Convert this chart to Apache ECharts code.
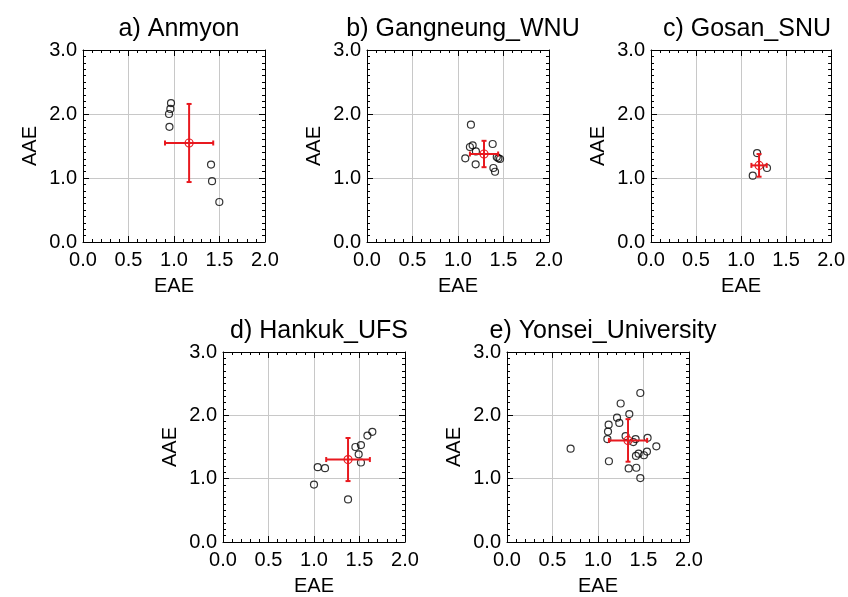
<!DOCTYPE html>
<html>
<head>
<meta charset="utf-8">
<script src="https://cdn.jsdelivr.net/npm/echarts@6/dist/echarts.min.js"></script>
<style>
html,body{margin:0;padding:0;background:#fff;}
#chart{width:848px;height:597px;}
</style>
</head>
<body>
<div id="chart"></div>
<script>
// ---- Data ----
const panelTitles = ['a) Anmyon', 'b) Gangneung_WNU', 'c) Gosan_SNU', 'd) Hankuk_UFS', 'e) Yonsei_University'];
const xTickLabels = ['0.0', '0.5', '1.0', '1.5', '2.0'];
const yTickLabels = ['0.0', '1.0', '2.0', '3.0'];

// [EAE, AAE]
const anmyonPoints = [[0.967, 2.17], [0.96, 2.08], [0.945, 2.0], [0.95, 1.80], [1.407, 1.21], [1.418, 0.95], [1.498, 0.625]];
const gangneungPoints = [[1.142, 1.833], [1.131, 1.484], [1.161, 1.51], [1.197, 1.416], [1.08, 1.307], [1.194, 1.213],
  [1.381, 1.531], [1.426, 1.328], [1.444, 1.307], [1.462, 1.297], [1.389, 1.156], [1.407, 1.098]];
const gosanPoints = [[1.178, 1.39], [1.288, 1.156], [1.13, 1.036]];
const hankukPoints = [[1.641, 1.739], [1.587, 1.681], [1.516, 1.531], [1.455, 1.5], [1.491, 1.385], [1.516, 1.255],
  [1.041, 1.181], [1.121, 1.166], [1.0, 0.906], [1.374, 0.672]];
const yonseiPoints = [[0.699, 1.473], [1.465, 2.353], [1.249, 2.187], [1.344, 2.02], [1.209, 1.963], [1.234, 1.88],
  [1.117, 1.853], [1.11, 1.744], [1.103, 1.625], [1.303, 1.672], [1.413, 1.625], [1.388, 1.578], [1.545, 1.645],
  [1.641, 1.51], [1.446, 1.395], [1.417, 1.359], [1.505, 1.37], [1.538, 1.427], [1.12, 1.275], [1.337, 1.161],
  [1.421, 1.172], [1.465, 1.01]];

// mean with std: [EAE mean, AAE mean, EAE sd, AAE sd]
const anmyonMean = [1.166, 1.547, 0.265, 0.61];
const gangneungMean = [1.286, 1.375, 0.155, 0.206];
const gosanMean = [1.2, 1.197, 0.085, 0.177];
const hankukMean = [1.374, 1.302, 0.24, 0.34];
const yonseiMean = [1.33, 1.604, 0.21, 0.336];

const allPoints = [anmyonPoints, gangneungPoints, gosanPoints, hankukPoints, yonseiPoints];
const allMeans = [anmyonMean, gangneungMean, gosanMean, hankukMean, yonseiMean];

// ---- Layout ----
const plotW = 182, plotH = 192;
const plotPos = [[83, 50], [367, 50], [651, 50], [223, 352], [507, 352]];
const RED = '#e8191f';
const FONT = 'Liberation Sans, Arial, Helvetica, sans-serif';

const grids = [], xAxes = [], yAxes = [], series = [], titles = [];

plotPos.forEach(function (p, i) {
  grids.push({ left: p[0], top: p[1], width: plotW, height: plotH, containLabel: false });
  titles.push({
    text: panelTitles[i], left: p[0] + plotW / 2, top: p[1] - 38, textAlign: 'center',
    textStyle: { fontFamily: FONT, fontSize: 25, fontWeight: 'normal', color: '#000' }
  });
  const common = {
    type: 'value', gridIndex: i,
    axisLine: { show: true, onZero: false, lineStyle: { color: '#000', width: 1 } },
    axisTick: { show: true, inside: true, length: 6, lineStyle: { color: '#000', width: 1 } },
    minorTick: { show: true, length: 3, lineStyle: { color: '#000', width: 1 } }
  };
  xAxes.push(Object.assign({}, common, {
    position: 'bottom', min: 0, max: 2, interval: 0.5,
    minorTick: Object.assign({}, common.minorTick, { splitNumber: 5 }),
    splitLine: { show: true, lineStyle: { color: '#c8c8c8', width: 1 } },
    axisLabel: {
      show: true, margin: 8, fontFamily: FONT, fontSize: 20, color: '#000',
      formatter: function (v) { return xTickLabels[Math.round(v / 0.5)]; }
    },
    name: 'EAE', nameLocation: 'middle', nameGap: 34,
    nameTextStyle: { fontFamily: FONT, fontSize: 20, color: '#000' }
  }));
  xAxes.push(Object.assign({}, common, {
    position: 'top', min: 0, max: 2, interval: 0.5,
    minorTick: Object.assign({}, common.minorTick, { splitNumber: 5 }),
    splitLine: { show: false }, axisLabel: { show: false }
  }));
  yAxes.push(Object.assign({}, common, {
    position: 'left', min: 0, max: 3, interval: 1,
    minorTick: Object.assign({}, common.minorTick, { splitNumber: 10 }),
    splitLine: { show: true, lineStyle: { color: '#c8c8c8', width: 1 } },
    axisLabel: {
      show: true, margin: 6, fontFamily: FONT, fontSize: 20, color: '#000',
      formatter: function (v) { return yTickLabels[Math.round(v)]; }
    },
    name: 'AAE', nameLocation: 'middle', nameGap: 43,
    nameTextStyle: { fontFamily: FONT, fontSize: 20, color: '#000' }
  }));
  yAxes.push(Object.assign({}, common, {
    position: 'right', min: 0, max: 3, interval: 1,
    minorTick: Object.assign({}, common.minorTick, { splitNumber: 10 }),
    splitLine: { show: false }, axisLabel: { show: false }
  }));

  series.push({
    type: 'scatter', xAxisIndex: 2 * i, yAxisIndex: 2 * i,
    data: allPoints[i], symbol: 'circle', symbolSize: 7,
    itemStyle: { color: 'rgba(0,0,0,0)', borderColor: '#000', borderWidth: 1.2 },
    z: 3, silent: true
  });
  series.push({
    type: 'custom', xAxisIndex: 2 * i, yAxisIndex: 2 * i,
    data: [allMeans[i]], encode: { x: 0, y: 1 }, z: 4, silent: true,
    renderItem: function (params, api) {
      const x = api.value(0), y = api.value(1), ex = api.value(2), ey = api.value(3);
      const c = api.coord([x, y]);
      const l = api.coord([x - ex, y]), r = api.coord([x + ex, y]);
      const t = api.coord([x, y + ey]), b = api.coord([x, y - ey]);
      const cap = 2.5;
      const st = { stroke: RED, lineWidth: 2 };
      return {
        type: 'group', children: [
          { type: 'line', shape: { x1: l[0], y1: l[1], x2: r[0], y2: r[1] }, style: st },
          { type: 'line', shape: { x1: t[0], y1: t[1], x2: b[0], y2: b[1] }, style: st },
          { type: 'line', shape: { x1: l[0], y1: l[1] - cap, x2: l[0], y2: l[1] + cap }, style: st },
          { type: 'line', shape: { x1: r[0], y1: r[1] - cap, x2: r[0], y2: r[1] + cap }, style: st },
          { type: 'line', shape: { x1: t[0] - cap, y1: t[1], x2: t[0] + cap, y2: t[1] }, style: st },
          { type: 'line', shape: { x1: b[0] - cap, y1: b[1], x2: b[0] + cap, y2: b[1] }, style: st },
          { type: 'circle', shape: { cx: c[0], cy: c[1], r: 4 }, style: { fill: 'none', stroke: RED, lineWidth: 1.2 } }
        ]
      };
    }
  });
});

const chart = echarts.init(document.getElementById('chart'), null, { renderer: 'canvas' });
chart.setOption({
  backgroundColor: '#fff',
  animation: false,
  title: titles,
  grid: grids,
  xAxis: xAxes,
  yAxis: yAxes,
  series: series
});
</script>
</body>
</html>
